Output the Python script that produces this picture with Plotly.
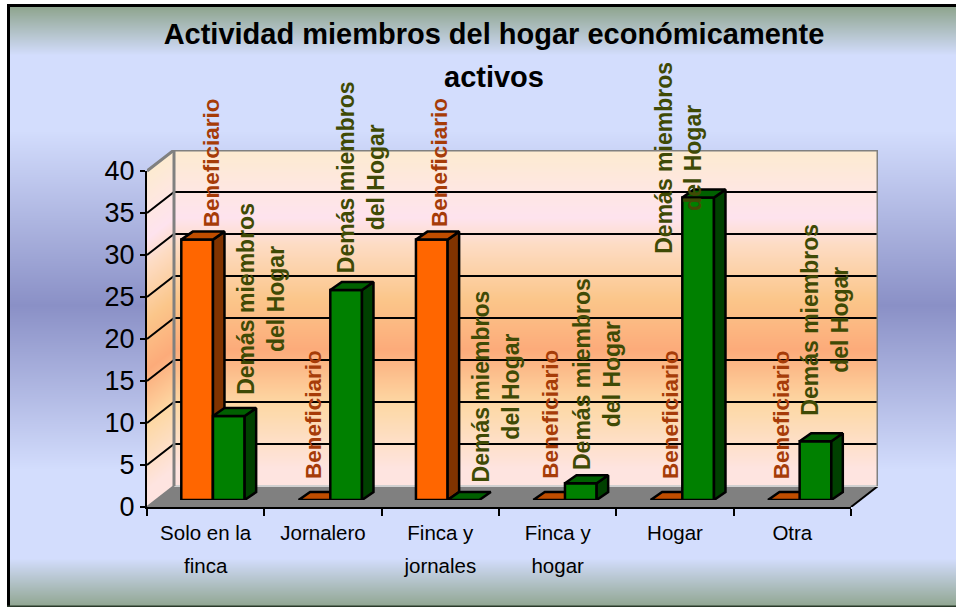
import plotly.graph_objects as go

# ---------- data ----------
categories = ["Solo en la<br>finca", "Jornalero", "Finca y<br>jornales", "Finca y<br>hogar", "Hogar", "Otra"]
beneficiario = [31, 0, 31, 0, 0, 0]
demas = [10, 25, 0, 2, 36, 7]
name_a = "Beneficiario"
name_b = "Demás miembros<br>del Hogar"
title_text = "Actividad miembros del hogar económicamente<br>activos"
y_ticks = [0, 5, 10, 15, 20, 25, 30, 35, 40]

# ---------- layout constants (pixels of the reference) ----------
W, H = 956, 607
FONT = "Liberation Sans, Arial, sans-serif"
LEFT, RIGHT, TOP, BOTTOM = 147, 851, 171, 507
WALL_DX_PX, WALL_DY_PX = 27, 21
BAR_SHIFT_X, BAR_SHIFT_Y = 7.3, 7
CAT_PX = (RIGHT - LEFT) / 6
UNIT_PX = (BOTTOM - TOP) / 40
DX, DY = WALL_DX_PX / CAT_PX, WALL_DY_PX / UNIT_PX
BAR_W = 0.27
BAR_DX, BAR_DY = 11.5 / CAT_PX, 8 / UNIT_PX

def dom_x(a, b):
    return [a / W, b / W]

def dom_y(top, bottom):
    return [1 - bottom / H, 1 - top / H]

# gradient stops: (pixel row, colour)
bg_stops = [(0, "#8fa58f"), (7, "#8fa58f"), (55, "#d3ddfd"), (130, "#d3ddfd"), (305, "#8a90c6"),
            (470, "#d3ddfd"), (558, "#d3ddfd"), (604, "#93a895"), (607, "#93a895")]
wall_stops = [(150, "#fdebd0"), (195, "#fee6e4"), (218, "#fee3ee"), (245, "#fddcc4"), (300, "#fbc68a"),
              (350, "#fcab7a"), (405, "#fdd8a4"), (470, "#fee4e0"), (487, "#fee4e0")]

fig = go.Figure()

# background band
rows = list(range(0, H + 1))
fig.add_trace(go.Heatmap(x=[0, 1], y=rows, z=[[r, r] for r in rows], zmin=0, zmax=H,
                         colorscale=[[p / H, c] for p, c in bg_stops],
                         showscale=False, hoverinfo="skip", xaxis="x", yaxis="y"))

# walls
wall_top = 40 + DY
col_edges = [DX * i / WALL_DX_PX for i in range(WALL_DX_PX + 1)] + [6 + DX]
n_rows = 357
row_edges = [wall_top * i / n_rows for i in range(n_rows + 1)]
wall_z = []
for r in range(n_rows):
    yc = (row_edges[r] + row_edges[r + 1]) / 2
    row = []
    for c in range(len(col_edges) - 1):
        xc = (col_edges[c] + col_edges[c + 1]) / 2
        t = min(xc / DX, 1)
        v = yc - t * DY
        row.append(v if 0 <= v <= 40 else None)
    wall_z.append(row)
wall_span = 487 - 150
fig.add_trace(go.Heatmap(x=col_edges, y=row_edges, z=wall_z, zmin=0, zmax=40,
                         colorscale=[[(487 - p) / wall_span, c] for p, c in reversed(wall_stops)],
                         showscale=False, hoverinfo="skip", xaxis="x2", yaxis="y2"))

def poly(xs, ys, fill, line="black", width=0, axes=("x2", "y2")):
    return go.Scatter(x=xs, y=ys, mode="lines", fill="toself", fillcolor=fill,
                      line=dict(color=line, width=width), hoverinfo="skip", showlegend=False,
                      cliponaxis=False, xaxis=axes[0], yaxis=axes[1])

def path(xs, ys, color, width, axes=("x2", "y2")):
    return go.Scatter(x=xs, y=ys, mode="lines", line=dict(color=color, width=width),
                      hoverinfo="skip", showlegend=False, cliponaxis=False,
                      xaxis=axes[0], yaxis=axes[1])

# floor
fig.add_trace(poly([0, 6, 6 + DX, DX, 0], [0, 0, DY, DY, 0], "#808080"))
fig.add_trace(path([6, 6 + DX], [0, DY], "black", 2))
fig.add_trace(path([DX, 6 + DX], [DY, DY], "#d0d0d0", 2))
# grid lines on left and back wall
gx, gy = [], []
for v in y_ticks[1:-1]:
    gx += [0, DX, 6 + DX, None]
    gy += [v, v + DY, v + DY, None]
fig.add_trace(path(gx, gy, "black", 2))
# wall outline
fig.add_trace(path([0, DX, 6 + DX, 6 + DX], [40, 40 + DY, 40 + DY, DY], "#808080", 3))
fig.add_trace(path([DX, DX], [DY, 40 + DY], "#808080", 3))
fig.add_trace(path([0, DX], [0, DY], "#808080", 2))

# front axes subplot
fig.add_trace(go.Scatter(x=[0], y=[0], mode="markers", marker=dict(opacity=0), hoverinfo="skip",
                         showlegend=False, xaxis="x3", yaxis="y3"))

def add_series(values, offset, front, side, top, axes):
    fig.add_trace(go.Bar(x=list(range(6)), y=values, width=BAR_W, offset=offset, marker=dict(color=front, line=dict(color="black", width=2.5)),
                         cliponaxis=False, showlegend=False, hoverinfo="skip", xaxis=axes[0], yaxis=axes[1]))
    sx, sy, tx, ty = [], [], [], []
    for i, v in enumerate(values):
        xl, xr = i + offset, i + offset + BAR_W
        if v > 0:
            sx += [xr, xr + BAR_DX, xr + BAR_DX, xr, xr, None]
            sy += [0, BAR_DY, v + BAR_DY, v, 0, None]
        tx += [xl, xr, xr + BAR_DX, xl + BAR_DX, xl, None]
        ty += [v, v, v + BAR_DY, v + BAR_DY, v, None]
    fig.add_trace(poly(sx, sy, side, width=2.5, axes=axes))
    fig.add_trace(poly(tx, ty, top, width=2.5, axes=axes))

add_series(beneficiario, -BAR_W, "#ff6600", "#803300", "#bf4d00", ("x4", "y4"))
add_series(demas, 0, "#008000", "#004000", "#006000", ("x5", "y5"))

# data labels: offsets from the bar top, in pixels
label_a_shift = [(14, 10), (-1, 19), (7, 11), (1, 19), (4, 19), (-2, 19)]
label_b_shift = [(32, 19), (15, 15), (33, 16), (16, 11), (-20, -58), (10, 24)]
annotations = []
for i, (va, vb) in enumerate(zip(beneficiario, demas)):
    annotations.append(dict(x=i - BAR_W / 2, y=va, xref="x4", yref="y4", text="<b>%s</b>" % name_a, showarrow=False,
                            textangle=-90, xanchor="center", yanchor="bottom",
                            xshift=label_a_shift[i][0], yshift=label_a_shift[i][1],
                            font=dict(family=FONT, size=22.5, color="#a63c08")))
    annotations.append(dict(x=i + BAR_W / 2, y=vb, xref="x5", yref="y5", text="<b>%s</b>" % name_b, showarrow=False,
                            textangle=-90, xanchor="center", yanchor="bottom", align="center",
                            xshift=label_b_shift[i][0], yshift=label_b_shift[i][1],
                            font=dict(family=FONT, size=23, color="#3f4a05")))

hidden = dict(visible=False, fixedrange=True)
fig.update_layout(
    width=W, height=H, margin=dict(l=0, r=0, t=0, b=0, autoexpand=False), showlegend=False,
    paper_bgcolor="#d3ddfd", plot_bgcolor="rgba(0,0,0,0)", barmode="overlay",
    font=dict(family=FONT, color="black"),
    title=dict(text='<b><span style="font-size:29px">%s</span></b>' % title_text.replace("<br>", '</span></b><br><b><span style="font-size:29px">'),
               x=494 / W, xanchor="center", y=1 - 44 / H, yanchor="top",
               font=dict(family=FONT, size=33, color="black")),
    xaxis=dict(hidden, domain=[0, 1], range=[0, 1]),
    yaxis=dict(hidden, domain=[0, 1], range=[H, 0]),
    xaxis2=dict(hidden, domain=dom_x(LEFT, RIGHT + WALL_DX_PX), range=[0, 6 + DX], anchor="y2"),
    yaxis2=dict(hidden, domain=dom_y(TOP - WALL_DY_PX, BOTTOM), range=[0, 40 + DY], anchor="x2"),
    xaxis3=dict(domain=dom_x(LEFT, RIGHT), range=[0, 6], anchor="y3", showgrid=False, zeroline=False,
                showline=True, linecolor="black", linewidth=2, fixedrange=True,
                tickmode="array", tickvals=[i + 0.5 for i in range(6)],
                ticktext=['<span style="font-size:20.5px">%s</span>' % c.replace("<br>", '</span><br><span style="font-size:20.5px">') for c in categories],
                ticks="", ticklabelstandoff=1, tickfont=dict(family=FONT, size=25, color="black"),
                minor=dict(tickmode="array", tickvals=list(range(7)), ticks="outside", ticklen=7, tickwidth=2, tickcolor="black", showgrid=False)),
    yaxis3=dict(domain=dom_y(TOP, BOTTOM), range=[0, 40], anchor="x3", showgrid=False, zeroline=False,
                showline=True, linecolor="black", linewidth=2, fixedrange=True,
                tickmode="array", tickvals=y_ticks, ticks="outside", ticklen=5, tickwidth=2, tickcolor="black",
                ticklabelstandoff=0, tickfont=dict(family=FONT, size=27, color="black")),
    xaxis4=dict(hidden, domain=dom_x(LEFT + BAR_SHIFT_X, RIGHT + BAR_SHIFT_X), range=[-0.5, 5.5], anchor="y4"),
    yaxis4=dict(hidden, domain=dom_y(TOP - BAR_SHIFT_Y, BOTTOM - BAR_SHIFT_Y), range=[0, 40], anchor="x4"),
    xaxis5=dict(hidden, domain=dom_x(LEFT + BAR_SHIFT_X, RIGHT + BAR_SHIFT_X), range=[-0.5, 5.5], anchor="y5"),
    yaxis5=dict(hidden, domain=dom_y(TOP - BAR_SHIFT_Y, BOTTOM - BAR_SHIFT_Y), range=[0, 40], anchor="x5"),
    annotations=annotations,
    shapes=[
        dict(type="rect", xref="paper", yref="paper", x0=7 / W, x1=10 / W, y0=0, y1=1 - 4 / H, fillcolor="black", line_width=0),
        dict(type="rect", xref="paper", yref="paper", x0=7 / W, x1=1, y0=1 - 7 / H, y1=1 - 4 / H, fillcolor="black", line_width=0),
        dict(type="rect", xref="paper", yref="paper", x0=7 / W, x1=1, y0=1 - 607 / H, y1=1 - 605.5 / H, fillcolor="#2a3a2a", line_width=0),
        dict(type="rect", xref="paper", yref="paper", x0=0, x1=7 / W, y0=0, y1=1, fillcolor="white", line_width=0),
        dict(type="rect", xref="paper", yref="paper", x0=0, x1=1, y0=1 - 4 / H, y1=1, fillcolor="white", line_width=0),
    ],
)

fig.write_html("out.html", config=dict(displayModeBar=False), post_script="document.body.style.margin='0';")
